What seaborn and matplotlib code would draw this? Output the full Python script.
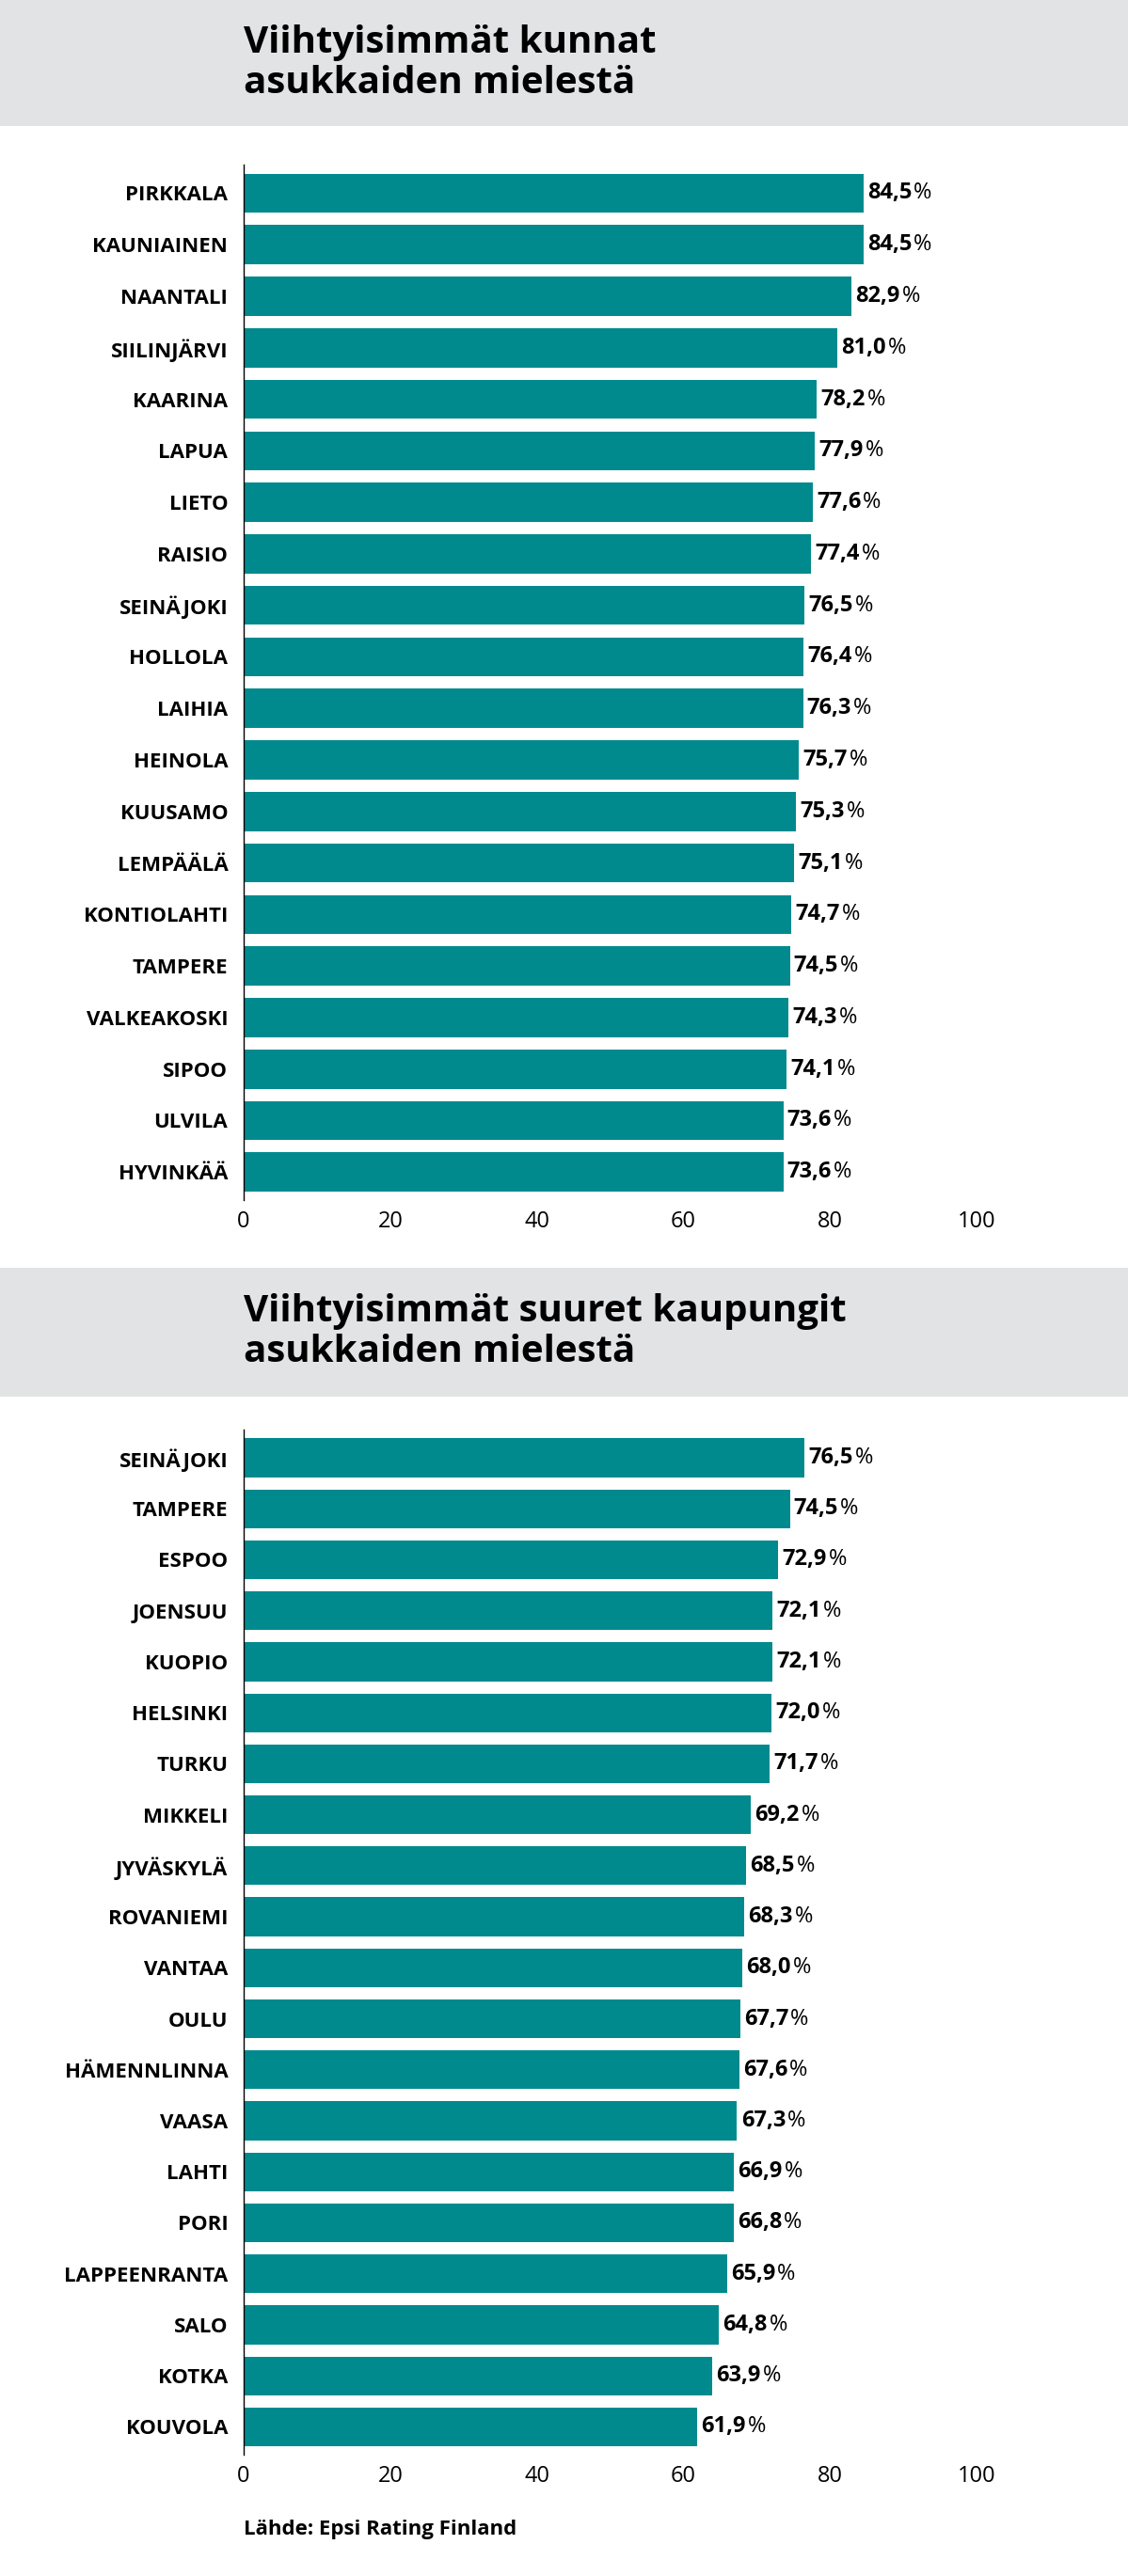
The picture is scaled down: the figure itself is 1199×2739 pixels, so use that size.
import matplotlib
matplotlib.use("Agg")
import matplotlib.pyplot as plt
import seaborn as sns
import pandas as pd
from matplotlib.patches import Rectangle

kunnat = ["PIRKKALA","KAUNIAINEN","NAANTALI","SIILINJÄRVI","KAARINA","LAPUA","LIETO","RAISIO",
          "SEINÄJOKI","HOLLOLA","LAIHIA","HEINOLA","KUUSAMO","LEMPÄÄLÄ","KONTIOLAHTI","TAMPERE",
          "VALKEAKOSKI","SIPOO","ULVILA","HYVINKÄÄ"]
kunnat_val = [84.5,84.5,82.9,81.0,78.2,77.9,77.6,77.4,76.5,76.4,76.3,75.7,75.3,75.1,74.7,74.5,74.3,74.1,73.6,73.6]
kaupungit = ["SEINÄJOKI","TAMPERE","ESPOO","JOENSUU","KUOPIO","HELSINKI","TURKU","MIKKELI","JYVÄSKYLÄ",
             "ROVANIEMI","VANTAA","OULU","HÄMENNLINNA","VAASA","LAHTI","PORI","LAPPEENRANTA","SALO","KOTKA","KOUVOLA"]
kaupungit_val = [76.5,74.5,72.9,72.1,72.1,72.0,71.7,69.2,68.5,68.3,68.0,67.7,67.6,67.3,66.9,66.8,65.9,64.8,63.9,61.9]
titles = ["Viihtyisimmät kunnat\nasukkaiden mielestä", "Viihtyisimmät suuret kaupungit\nasukkaiden mielestä"]
xticks = [0, 20, 40, 60, 80, 100]

FONT = "Open Sans"
plt.rcParams["font.family"] = FONT
BAR = "#008a8e"
GREY = "#e1e3e4"

fig = plt.figure(figsize=(11.99, 27.39), dpi=100)
fig.patch.set_facecolor("white")

headers = [(0.951, 1.0), (0.458, 0.508)]
axes_pos = [(0.936, 0.534), (0.445, 0.047)]
data = [(kunnat, kunnat_val), (kaupungit, kaupungit_val)]

axs = []
for (hb, ht), (at, ab), (cats, vals), title in zip(headers, axes_pos, data, titles):
    fig.patches.append(Rectangle((0, hb), 1, ht - hb, transform=fig.transFigure,
                                 facecolor=GREY, edgecolor="none", zorder=0))
    fig.text(0.216, (hb + ht) / 2, title, fontsize=29, fontweight="bold",
             va="center", ha="left", linespacing=1.15)
    ax = fig.add_axes([0.216, ab, 0.866 - 0.216, at - ab])
    df = pd.DataFrame({"cat": cats, "val": vals})
    sns.barplot(data=df, x="val", y="cat", ax=ax, color=BAR, width=0.76,
                saturation=1, edgecolor="none")
    ax.set_xlim(0, 100)
    ax.set_ylim(len(cats) - 0.45, -0.55)
    ax.set_xticks(xticks)
    ax.set_xticklabels([str(t) for t in xticks], fontsize=17)
    ax.set_xlabel(""); ax.set_ylabel("")
    for s in ["top", "right", "bottom"]:
        ax.spines[s].set_visible(False)
    ax.spines["left"].set_linewidth(1.0)
    ax.tick_params(axis="x", length=0, pad=8)
    ax.tick_params(axis="y", length=0, pad=12)
    for lab in ax.get_yticklabels():
        lab.set_fontweight("bold"); lab.set_fontsize(16)
    axs.append((ax, vals))

fig.canvas.draw()
r = fig.canvas.get_renderer()
for ax, vals in axs:
    for i, v in enumerate(vals):
        t = ax.annotate(f"{v:.1f}".replace(".", ","), xy=(v, i), xytext=(3, 0),
                        textcoords="offset points", va="center", ha="left",
                        fontsize=17, fontweight="bold")
        bb = t.get_window_extent(renderer=r)
        ax.annotate("%", xy=(bb.x1 + 2, (bb.y0 + bb.y1) / 2), xycoords="figure pixels",
                    va="center", ha="left", fontsize=17)

fig.text(0.216, 0.018, "Lähde: Epsi Rating Finland", fontsize=16, fontweight="bold",
         va="center", ha="left")
fig.savefig("out.png", dpi=100)
